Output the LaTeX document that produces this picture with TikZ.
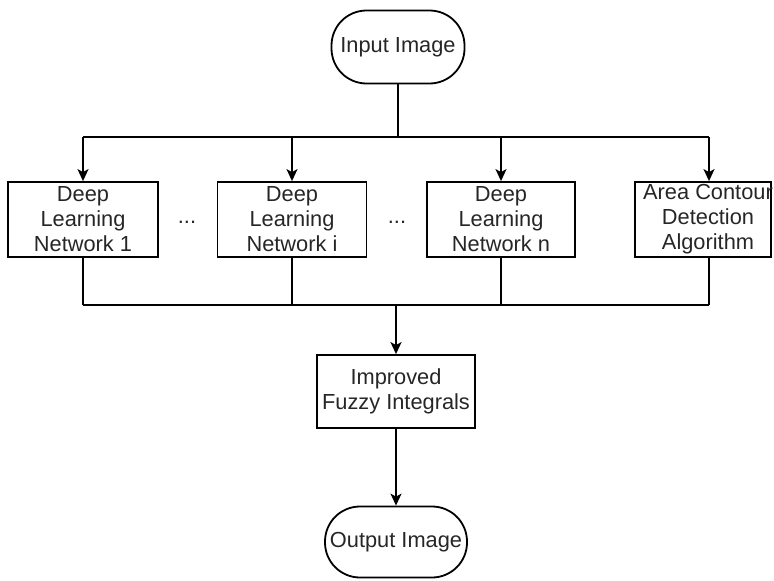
\documentclass[tikz,border=0pt]{standalone}
\usepackage{fontspec}
\setmainfont{Liberation Sans}
\usetikzlibrary{arrows.meta}
\begin{document}
\begin{tikzpicture}[x=1pt,y=-1pt,
  every node/.style={font=\fontsize{21.8}{25}\selectfont, text=black!85, inner sep=0pt},
  terminal/.style={draw, line width=1.8pt, rounded corners=35pt, align=center},
  procbox/.style={draw, line width=1.8pt, minimum height=75pt, align=center},
  link/.style={line width=1.7pt},
  trunk/.style={line width=2.5pt},
  arr/.style={link, -{Stealth[length=12pt, width=11pt, inset=3pt]}},
  trunkarr/.style={trunk, -{Stealth[length=12pt, width=11pt, inset=3pt]}}
]
\useasboundingbox (0,0) rectangle (774,581);

% start and end terminals
\node[terminal, minimum width=133pt, minimum height=73pt] (in) at (398,47) {Input Image};
\node[terminal, minimum width=142pt, minimum height=71pt] (out) at (396,542) {Output Image};

% parallel branches
\node[procbox, minimum width=150pt] (b1) at (83,219.5) {Deep\\Learning\\Network 1};
\node[procbox, minimum width=149pt] (bi) at (292,219.5) {Deep\\Learning\\Network i};
\node[procbox, minimum width=148pt] (bn) at (501,219.5) {Deep\\Learning\\Network n};
\node[procbox, minimum width=136pt] (ba) at (703,219.5) {};
\node[align=center] (bat) at ([xshift=5pt]ba.center) {Area Contour\\Detection\\Algorithm};

\node (d1) at (187,222) {...};
\node (d2) at (397,222) {...};

% fusion step
\node[procbox, minimum width=158pt, minimum height=73pt] (fz) at (396,391.5) {Improved\\Fuzzy Integrals};

% split bus
\coordinate (top) at (398,137);
\coordinate (topL) at (83,137);
\coordinate (topR) at (709,137);
\draw[trunk] (in.south) -- (top);
\draw[link] (topL) -- (topR);
\draw[arr] (b1.north |- top) -- (b1.north);
\draw[arr] (bi.north |- top) -- (bi.north);
\draw[arr] (bn.north |- top) -- (bn.north);
\draw[arr] (topR) -- (topR |- ba.north);

% merge bus
\coordinate (botL) at (83,305);
\coordinate (botR) at (709,305);
\coordinate (botA) at (709,257);
\draw[link] (b1.south) -- (b1.south |- botL);
\draw[link] (bi.south) -- (bi.south |- botL);
\draw[link] (bn.south) -- (bn.south |- botL);
\draw[link] (botA) -- (botR);
\draw[link] (botL) -- (botR);
\draw[trunkarr] (fz.north |- botL) -- (fz.north);

\draw[arr] (fz.south) -- (out.north);
\end{tikzpicture}
\end{document}
